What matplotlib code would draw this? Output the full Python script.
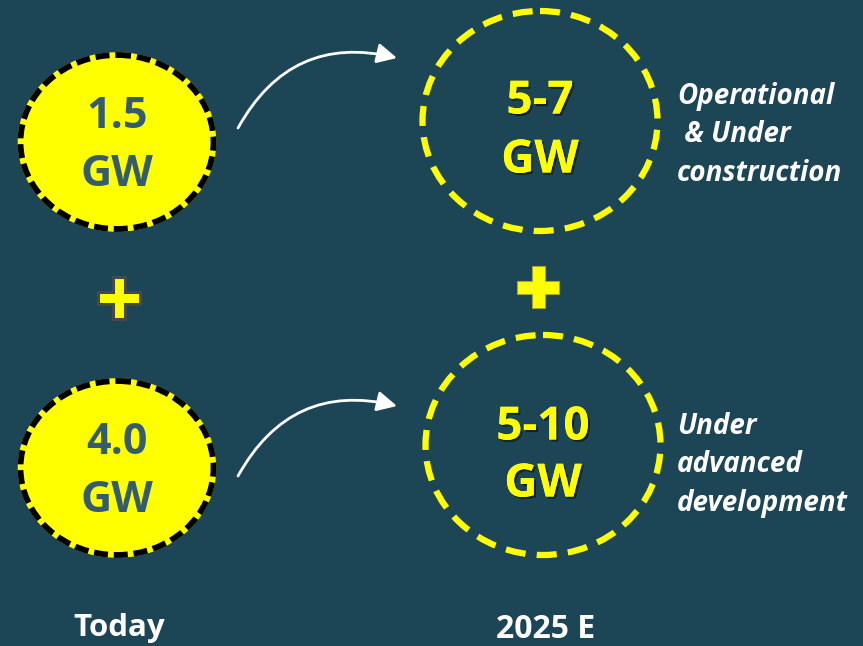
import matplotlib
matplotlib.use("Agg")
import matplotlib.pyplot as plt
from matplotlib.patches import Ellipse, FancyArrowPatch, Polygon
import matplotlib.patheffects as pe

# ---- data ----
categories = ["Today", "2025 E"]
today_values = ["1.5", "4.0"]
future_values = ["5-7", "5-10"]
unit = "GW"
future_labels = ["Operational\n & Under\nconstruction", "Under\nadvanced\ndevelopment"]

BG = "#1c4556"
YEL = "#ffff00"
DARKTXT = "#355c6c"
FONT = ["Open Sans", "DejaVu Sans"]

fig = plt.figure(figsize=(8.63, 6.46), dpi=100)
fig.patch.set_facecolor(BG)
ax = fig.add_axes([0, 0, 1, 1])
ax.set_facecolor(BG)
ax.set_xlim(0, 863)
ax.set_ylim(646, 0)
ax.axis("off")

left_cx = 117
left_cy = [142, 468]
right_cx = [540, 543]
right_cy = [121, 445]
label_y = [135, 465]

for i, v in enumerate(today_values):
    cy = left_cy[i]
    ax.add_patch(Ellipse((left_cx, cy), 193, 174, facecolor=YEL, edgecolor=YEL, lw=4))
    ax.add_patch(Ellipse((left_cx, cy), 193, 174, facecolor="none", edgecolor="black",
                         lw=4.2, linestyle=(0, (2.4, 1.0))))
    ax.text(left_cx, cy - 26, v, ha="center", va="center", fontsize=31, fontweight="bold",
            color=DARKTXT, family=FONT)
    ax.text(left_cx, cy + 32, unit, ha="center", va="center", fontsize=31, fontweight="bold",
            color=DARKTXT, family=FONT)

shadow = [pe.withSimplePatchShadow(offset=(1.5, -1.5), shadow_rgbFace="black", alpha=0.5), pe.Normal()]
offs = [(-20, 39), (-18, 39)]
for i, v in enumerate(future_values):
    cx, cy = right_cx[i], right_cy[i]
    ax.add_patch(Ellipse((cx, cy), 235, 220, facecolor="none", edgecolor=YEL,
                         lw=4.5, linestyle=(0, (3.2, 1.8))))
    t1 = ax.text(cx, cy + offs[i][0], v, ha="center", va="center", fontsize=33, fontweight="bold",
                 color=YEL, family=FONT)
    t2 = ax.text(cx, cy + offs[i][1], unit, ha="center", va="center", fontsize=33, fontweight="bold",
                 color=YEL, family=FONT)
    t1.set_path_effects(shadow)
    t2.set_path_effects(shadow)
    ax.text(677, label_y[i], future_labels[i], ha="left", va="center", fontsize=20,
            fontweight="bold", fontstyle="italic", color="white", family=FONT,
            linespacing=1.42)

# arrows
for i in range(2):
    y0 = left_cy[i]
    arr = FancyArrowPatch((238, y0 - 14 + i * 22), (397, y0 - 84 + i * 22),
                          connectionstyle="arc3,rad=-0.38", arrowstyle="-|>,head_length=7.5,head_width=3.8",
                          color="white", lw=2, mutation_scale=1.6, shrinkA=0, shrinkB=0)
    ax.add_patch(arr)

# plus signs
def plus(cx, cy, half, thick, edge, elw):
    h, t = half, thick / 2
    pts = [(cx - t, cy - h), (cx + t, cy - h), (cx + t, cy - t), (cx + h, cy - t),
           (cx + h, cy + t), (cx + t, cy + t), (cx + t, cy + h), (cx - t, cy + h),
           (cx - t, cy + t), (cx - h, cy + t), (cx - h, cy - t), (cx - t, cy - t)]
    ax.add_patch(Polygon(pts, closed=True, facecolor=YEL, edgecolor=edge, lw=elw))

plus(119, 298, 21, 12, "#444a4a", 2.2)
plus(538, 287, 21, 13, "#a8a828", 0.8)

# bottom labels
ax.text(119, 628, categories[0], ha="center", va="center", fontsize=22.5, fontweight="bold",
        color="white", family=FONT)
ax.text(546, 630, categories[1], ha="center", va="center", fontsize=23, fontweight="bold",
        color="white", family=FONT)

fig.savefig("out.png", dpi=100, facecolor=BG)
